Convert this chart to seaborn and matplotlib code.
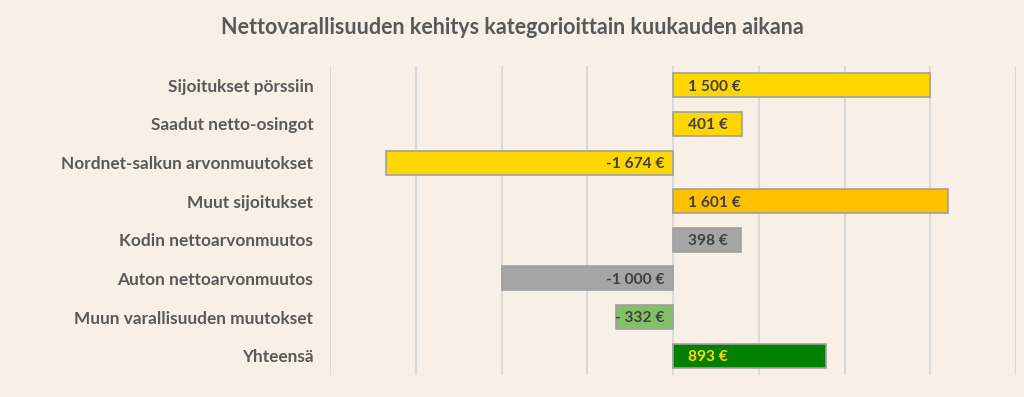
import matplotlib
matplotlib.use("Agg")
import matplotlib.pyplot as plt
import seaborn as sns
import pandas as pd

categories = ["Sijoitukset pörssiin", "Saadut netto-osingot", "Nordnet-salkun arvonmuutokset",
              "Muut sijoitukset", "Kodin nettoarvonmuutos", "Auton nettoarvonmuutos",
              "Muun varallisuuden muutokset", "Yhteensä"]
values = [1500, 401, -1674, 1601, 398, -1000, -332, 893]
value_labels = ["1 500 €", "401 €", "-1 674 €", "1 601 €", "398 €", "-1 000 €", "- 332 €", "893 €"]
bar_colors = ["#FFD700", "#FFD700", "#FFD700", "#FFC000", "#A5A5A5", "#A5A5A5", "#84C06A", "#008000"]
label_colors = ["#404040"] * 7 + ["#FFD700"]
title = "Nettovarallisuuden kehitys kategorioittain kuukauden aikana"

BG = "#F8F0E6"
sns.set_theme(style="white")
plt.rcParams["font.family"] = ["Lato", "DejaVu Sans"]

df = pd.DataFrame({"category": categories, "value": values})

fig = plt.figure(figsize=(10.24, 3.97), dpi=100, facecolor=BG)
ax = fig.add_axes([330 / 1024, 1 - 375 / 397, (1016 - 330) / 1024, (375 - 66) / 397])
ax.set_facecolor(BG)

sns.barplot(data=df, x="value", y="category", hue="category", palette=bar_colors,
            saturation=1, legend=False, orient="h", width=0.62, edgecolor="#A0A0A0",
            linewidth=1.2, ax=ax, zorder=3)

ax.set_xlim(-2000, 2000)
ax.set_ylim(len(categories) - 0.5, -0.5)
ax.set_xticks(range(-2000, 2001, 500))
ax.set_xticklabels([])
ax.tick_params(axis="x", length=0)
ax.tick_params(axis="y", length=0, pad=12)
ax.grid(axis="x", color="#D9D9D9", linewidth=1.5, zorder=0)
ax.grid(axis="y", visible=False)
for s in ax.spines.values():
    s.set_visible(False)
ax.set_xlabel("")
ax.set_ylabel("")
for lbl in ax.get_yticklabels():
    lbl.set_fontsize(12.4)
    lbl.set_fontweight("bold")
    lbl.set_color("#595959")

for i, (v, t, c) in enumerate(zip(values, value_labels, label_colors)):
    if v >= 0:
        ax.annotate(t, xy=(0, i), xytext=(11, -1), textcoords="offset points",
                    ha="left", va="center", fontsize=11.2, fontweight="bold", color=c, zorder=4)
    else:
        ax.annotate(t, xy=(0, i), xytext=(-6, -1), textcoords="offset points",
                    ha="right", va="center", fontsize=11.2, fontweight="bold", color=c, zorder=4)

fig.text(512 / 1024, 1 - 28 / 397, title, ha="center", va="center", fontsize=15.5,
         fontweight="bold", color="#595959")

fig.savefig("out.png", dpi=100, facecolor=BG)
